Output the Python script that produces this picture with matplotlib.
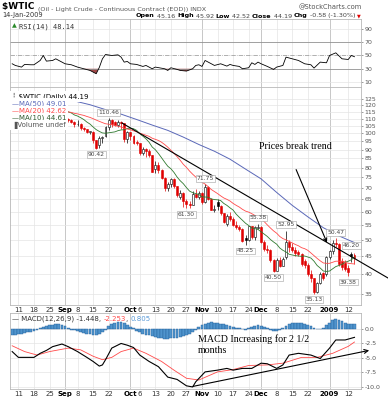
import numpy as np
import pandas as pd
import matplotlib
matplotlib.use("Agg")
import matplotlib.pyplot as plt

# trading days on the chart (exchange holidays taken out)
dates = pd.bdate_range("2008-08-07", "2009-01-14")
dates = dates[~dates.isin(pd.to_datetime(["2008-09-01", "2008-11-27", "2008-12-25", "2009-01-01"]))]

# daily candles (Aug .. Jan)
opens = [118.6, 119.8, 115.3, 114.4, 113.1, 116.2, 114.9, 113.7, 112.9, 114.5, 115.6, 121.2, 114.6, 115.0, 116.3, 118.2, 115.6,
         114.5, 109.7, 109.4, 107.9, 106.2, 106.3, 103.3, 102.6, 100.9, 101.2, 95.7, 92.5, 97.2, 98.5, 104.6, 109.4, 107.5, 105.7, 108.0, 106.9, 96.4,
         100.6, 98.5, 94.0, 93.9, 87.8, 90.1, 89.0, 86.6, 79.0, 81.2, 78.6, 74.5, 69.9, 71.9, 74.3, 70.9, 66.0, 67.8, 64.2, 63.2, 62.7, 67.5, 66.0,
         67.8, 63.9, 70.5, 65.3, 60.8, 64.0, 62.4, 59.3, 55.5, 58.2, 57.0, 55.0, 54.4, 53.6, 50.5, 49.9, 54.5, 50.8, 54.0,
         54.4, 49.3, 47.0, 46.8, 43.7, 40.8, 43.7, 42.1, 44.5, 49.3, 47.5, 46.6, 46.2, 45.4, 43.5, 42.4, 39.9, 38.8, 35.4, 37.7, 40.2, 40.0,
         44.6, 46.3, 48.8, 48.6, 43.5, 43.0, 41.5, 45.6, 45.16]
highs = [120.8, 120.2, 116.0, 115.0, 117.3, 117.0, 115.2, 114.4, 115.0, 117.0, 121.7, 122.0, 116.0, 117.0, 119.2, 118.6, 117.5,
         116.0, 110.8, 110.0, 108.5, 108.8, 107.0, 104.0, 103.0, 101.8, 101.5, 96.0, 98.4, 98.5, 105.0, 110.46, 110.2, 108.2, 108.8, 108.5, 107.2, 101.4,
         101.0, 99.0, 96.0, 94.2, 91.6, 91.0, 90.6, 87.0, 83.3, 83.0, 79.5, 75.0, 72.6, 74.5, 74.5, 71.0, 69.0, 68.0, 65.0, 64.5, 68.5, 69.5, 68.5,
         68.0, 71.75, 71.0, 65.5, 62.5, 65.0, 62.8, 59.5, 59.0, 60.0, 58.0, 56.5, 55.0, 53.8, 51.5, 54.7, 54.6, 54.6, 55.38,
         54.5, 50.0, 48.3, 47.1, 44.0, 44.3, 44.5, 44.5, 52.95, 50.0, 49.0, 47.5, 46.8, 45.8, 44.0, 42.8, 41.0, 39.0, 38.0, 40.5, 40.5, 44.8,
         46.7, 49.8, 50.47, 48.8, 44.3, 43.8, 42.3, 46.20, 45.92]
lows = [117.4, 114.6, 113.0, 111.3, 112.2, 112.6, 111.3, 111.3, 112.0, 113.0, 115.0, 114.0, 113.5, 114.0, 115.6, 114.5, 114.5,
        105.5, 107.6, 106.9, 104.0, 104.7, 102.3, 101.3, 100.0, 99.5, 93.9, 90.42, 90.8, 93.9, 97.5, 102.5, 104.4, 104.9, 104.5, 103.0, 94.4, 94.0,
        96.0, 93.3, 92.5, 87.0, 87.0, 85.7, 85.6, 77.6, 77.0, 77.0, 74.0, 68.6, 68.6, 70.5, 70.0, 66.0, 65.0, 62.0, 61.30, 61.5, 62.5, 65.5, 65.0,
        63.0, 63.5, 64.8, 60.5, 59.8, 60.5, 58.5, 55.8, 54.7, 56.5, 54.5, 53.5, 52.9, 49.2, 48.25, 49.5, 50.1, 50.0, 53.5,
        49.0, 46.5, 45.7, 43.3, 40.50, 40.6, 41.8, 42.0, 44.0, 46.0, 46.0, 45.0, 44.8, 42.0, 41.5, 39.5, 38.0, 35.13, 35.3, 37.5, 38.5, 39.5,
        44.0, 45.5, 47.5, 42.0, 41.0, 40.6, 39.38, 43.2, 42.52]
closes = [120.0, 115.2, 114.4, 113.0, 116.0, 115.0, 113.8, 112.9, 114.5, 115.6, 121.2, 114.6, 115.0, 116.3, 118.2, 115.6, 115.5,
          109.7, 109.4, 107.9, 106.2, 106.3, 103.3, 102.6, 100.9, 101.2, 95.7, 91.2, 97.2, 97.9, 104.6, 109.4, 106.6, 105.7, 108.0, 106.9, 96.4, 100.6,
          98.5, 94.0, 93.9, 87.8, 90.1, 89.0, 86.6, 77.7, 81.2, 78.6, 74.5, 69.9, 71.9, 74.3, 70.9, 66.8, 67.8, 64.2, 63.2, 62.7, 67.5, 66.0, 67.8,
          63.9, 70.5, 65.3, 60.8, 61.0, 62.4, 59.3, 56.2, 58.2, 57.0, 55.0, 54.4, 53.6, 49.6, 49.9, 54.5, 50.8, 54.4, 54.4,
          49.3, 47.0, 46.8, 43.7, 40.8, 43.7, 42.1, 44.0, 49.3, 47.5, 46.6, 45.8, 45.4, 42.6, 42.4, 39.9, 39.0, 35.4, 37.7, 40.0, 39.0, 44.6,
          46.3, 48.8, 48.6, 42.6, 41.9, 41.2, 40.5, 44.77, 44.19]

# moving averages
ma10_start = 9
ma10 = [115.0, 115.2, 115.1, 115.2, 115.5, 115.7, 115.8, 115.9, 115.6, 115.1, 114.3, 112.8, 112.0, 110.8, 109.5, 107.7,
        106.3, 104.3, 102.5, 101.3, 100.3, 100.1, 100.4, 100.7, 101.0, 101.8, 102.3, 102.4, 103.3, 103.5, 103.1, 102.0,
        99.8, 98.2, 96.5, 94.4, 91.5, 89.9, 87.7, 85.3, 82.9, 80.7, 79.4, 77.5, 75.2, 73.4, 72.0, 70.2, 68.6, 67.9, 67.5,
        67.1, 66.1, 66.0, 65.9, 65.2, 64.9, 64.8, 64.5, 63.3, 62.5, 61.5, 60.6, 59.0, 57.8, 56.7, 55.6, 54.8, 53.9, 53.7,
        53.4, 52.6, 51.8, 51.0, 50.0, 49.2, 48.5, 47.3, 46.6, 46.1, 45.4, 45.2, 45.0, 44.9, 44.8, 44.9, 44.6, 44.3, 43.4,
        42.2, 41.5, 40.7, 40.6, 40.7, 41.3, 41.9, 42.2, 42.5, 43.1, 43.4, 43.8, 44.61]
ma20_start = 14
ma20 = [116.2, 116.0, 115.8, 115.5, 115.1, 114.7, 114.0, 113.6, 113.0, 112.5, 111.7, 111.0, 110.1, 109.1, 108.2, 107.3,
        106.5, 106.2, 105.8, 105.3, 104.8, 104.3, 103.4, 102.9, 102.4, 101.7, 101.1, 100.1, 99.5, 98.8, 98.1, 96.9, 96.2,
        95.5, 94.4, 93.0, 91.4, 89.6, 87.8, 85.9, 83.9, 81.7, 80.1, 78.2, 76.6, 75.2, 73.9, 72.7, 71.8, 70.6, 69.3, 68.4,
        67.5, 66.5, 65.6, 65.0, 64.3, 63.3, 62.5, 61.8, 60.9, 60.2, 59.8, 59.2, 58.5, 58.0, 57.0, 56.2, 55.0, 53.9, 52.9,
        52.1, 51.0, 50.3, 49.9, 49.4, 48.9, 48.4, 48.0, 47.4, 47.1, 46.6, 45.8, 45.0, 44.2, 43.5, 42.9, 42.8, 42.8, 43.1,
        43.4, 43.4, 43.4, 43.2, 42.8, 42.7, 42.62]
ma50_pos = [14, 20, 25, 30, 35, 40, 45, 50, 55, 60, 65, 70, 75, 80, 85, 90, 95, 100, 105, 110]
ma50 = [126.4, 123.6, 120.6, 116.8, 113.4, 109.5, 105.6, 102.0, 97.6, 93.0, 89.0, 84.5, 79.2, 74.3, 68.0, 62.5, 58.0, 54.0, 51.2, 49.01]

# RSI(14)
rsi_pos = [0, 1, 3, 4, 6, 7, 9, 10, 11, 13, 14, 15, 17, 19, 21, 23, 25, 27, 28, 29, 30, 32, 34, 35, 36, 37, 38, 40, 42, 43,
           45, 46, 49, 50, 51, 53, 54, 56, 58, 59, 60, 61, 62, 64, 65, 67, 69, 70, 71, 73, 74, 76, 77, 78, 79, 80, 82, 84, 85, 87,
           88, 90, 92, 94, 96, 97, 99, 101, 102, 104, 106, 108, 109, 110]
rsi_vals = [37.5, 35, 32.5, 36.5, 36, 36, 42.5, 50, 41.5, 42.5, 45, 42.5, 37.5, 36, 32.5, 30, 27.5, 22.5, 32, 45,
            51.5, 50, 51, 47.5, 40, 41, 37.5, 36.5, 33.5, 35, 30, 32.5, 30, 27.5, 31.5, 29, 27.5, 26.5, 30, 35,
            36, 33.5, 42.5, 37.5, 35, 37.5, 34, 36.5, 35, 33.5, 30, 31.5, 39, 36.5, 40, 37.5, 33.5, 29, 32.5, 35,
            47.5, 45, 42.5, 37.5, 36, 31, 40, 39, 50, 54, 45, 44, 50, 48.14]

# MACD(12,26,9)
macd_pos = [0, 2, 7, 9, 11, 13, 16, 18, 21, 24, 26, 28, 29, 30, 32, 35, 37, 39, 41, 44, 47, 50, 53, 56, 58, 59, 62, 66,
            69, 71, 74, 77, 80, 82, 85, 87, 89, 92, 96, 99, 102, 104, 107, 110]
macd_vals = [-3.9, -4.9, -4.9, -4.2, -3.7, -3.05, -2.6, -3.05, -3.9, -4.9, -5.6, -6.4, -6.2, -5.3, -3.3, -2.5, -2.8, -3.2,
             -4.5, -5.6, -6.5, -8.3, -8.7, -9.8, -10.0, -9.1, -7.4, -7.1, -6.8, -7.1, -6.8, -6.8, -5.9, -6.0, -6.8, -6.2,
             -4.5, -4.2, -4.5, -5.1, -3.3, -1.9, -1.9, -1.448]
signal_pos = [0, 4, 8, 12, 18, 22, 26, 29, 32, 35, 39, 43, 48, 52, 56, 60, 66, 71, 76, 82, 87, 93, 98, 103, 108, 110]
signal_vals = [-2.9, -3.9, -4.5, -3.9, -3.3, -3.6, -4.7, -5.3, -4.9, -3.9, -3.3, -4.2, -5.6, -7.1, -8.5, -8.8, -7.4,
               -7.0, -6.3, -6.2, -5.9, -4.9, -4.9, -4.2, -3.0, -2.253]
hist = [-1.0, -1.0, -0.9, -0.8, -0.7, -0.6, -0.5, -0.4, -0.2, 0.1,
        0.3, 0.5, 0.6, 0.7, 0.8, 0.8, 0.7, 0.5, 0.1, -0.1,
        -0.2, -0.4, -0.6, -0.7, -0.8, -0.9, -1.0, -1.1, -0.9, -0.5,
        -0.1, 0.5, 0.9, 1.1, 1.2, 1.2, 1.0, 0.7, 0.4, 0.1,
        -0.3, -0.6, -0.8, -1.0, -1.1, -1.3, -1.4, -1.5, -1.6, -1.7,
        -1.7, -1.6, -1.5, -1.5, -1.4, -1.3, -1.1, -0.9, -0.5, -0.1,
        0.3, 0.6, 0.9, 1.1, 1.2, 1.1, 1.0, 0.9, 0.8, 0.7,
        0.5, 0.3, 0.2, 0.1, 0.0, -0.1, 0.1, 0.3, 0.5, 0.6,
        0.5, 0.3, 0.1, -0.1, -0.3, -0.3, -0.2, 0.1, 0.5, 0.8,
        1.0, 1.1, 1.1, 1.0, 0.9, 0.7, 0.5, 0.2, 0.0, 0.0,
        0.1, 0.6, 1.1, 1.5, 1.7, 1.6, 1.4, 1.1, 0.9, 0.9, 0.805]

# labelled highs / lows: (trading day, value, above)
price_notes = [(31, 110.46, True), (27, 90.42, False), (62, 71.75, True), (56, 61.30, False),
               (79, 55.38, True), (75, 48.25, False), (88, 52.95, True), (84, 40.50, False),
               (104, 50.47, True), (109, 46.20, True), (97, 35.13, False), (108, 39.38, False)]

n = len(dates)
pos = np.arange(n)

# date ticks: first trading day of each month plus weekly ticks
month_pos = [i for i in range(1, n) if dates[i].month != dates[i - 1].month]
week_pos = [i for i in range(1, n) if dates[i].weekday() < dates[i - 1].weekday()]
week_pos = [w for w in week_pos if not any(-3 <= w - m <= 1 for m in month_pos)]
tick_pos = sorted(week_pos + month_pos)
tick_text = []
for t in tick_pos:
    d = dates[t]
    if t in month_pos:
        tick_text.append(str(d.year) if d.month == 1 else d.strftime("%b"))
    else:
        tick_text.append(str(d.day))

W, H = 388, 400
fig = plt.figure(figsize=(W / 100, H / 100), dpi=100)


def rect(x0, y0, x1, y1):
    return [x0 / W, 1 - y1 / H, (x1 - x0) / W, (y1 - y0) / H]


ax_rsi = fig.add_axes(rect(10, 19, 361, 87))
ax = fig.add_axes(rect(10, 87, 361, 305))
ax_macd = fig.add_axes(rect(10, 313, 361, 389))


def style_panel(a, labels):
    a.set_xlim(-0.7, 112.1)
    for s in a.spines.values():
        s.set_color("#b8b8b8")
        s.set_linewidth(0.6)
    for t in tick_pos:
        a.axvline(t, color="#b0b0b0" if t in month_pos else "#e4e4e4", lw=0.5, zorder=0)
    a.yaxis.tick_right()
    a.tick_params(axis="y", labelsize=4.5, length=1.5, width=0.4, colors="#555555", pad=1)
    a.set_xticks(tick_pos)
    a.tick_params(axis="x", length=0, pad=1.5, labelsize=5, colors="#333333")
    if labels:
        a.set_xticklabels(tick_text)
        for lab, t in zip(a.get_xticklabels(), tick_pos):
            if t in month_pos:
                lab.set_fontweight("bold")
                lab.set_color("black")
    else:
        a.set_xticklabels([])


def chain(host, first, parts, size):
    # place text pieces one after another on the same line
    prev = first
    for s, wt, col in parts:
        prev = host.annotate(s, xy=(1, 0), xycoords=prev, fontsize=size, fontweight=wt, color=col,
                             va="bottom", ha="left", annotation_clip=False, zorder=9)
    return prev


# ---- RSI panel
style_panel(ax_rsi, False)
ax_rsi.set_ylim(2.5, 105)
ax_rsi.set_yticks([10, 30, 50, 70, 90])
for lv in [10, 90]:
    ax_rsi.axhline(lv, color="#e4e4e4", lw=0.5, zorder=0)
ax_rsi.axhline(70, color="#909090", lw=0.6)
ax_rsi.axhline(30, color="#909090", lw=0.6)
ax_rsi.axhline(50, color="#909090", lw=0.5, ls="-.")
rv = np.array(rsi_vals)
ax_rsi.fill_between(rsi_pos, rv, 30, where=rv < 30, interpolate=True, color="#a04848", lw=0)
ax_rsi.plot(rsi_pos, rsi_vals, color="black", lw=0.6)
ax_rsi.text(0.006, 0.93, "\u25b2", transform=ax_rsi.transAxes, fontsize=4.5, color="#2a8a2a", va="top")
ax_rsi.text(0.026, 0.93, "RSI(14) 48.14", transform=ax_rsi.transAxes, fontsize=5, color="#333333",
            va="top", family="DejaVu Sans Mono")

# ---- price panel
style_panel(ax, True)
ax.set_yscale("log")
ax.set_ylim(32.6, 135.4)
price_ticks = list(range(35, 130, 5))
ax.set_yticks(price_ticks)
ax.set_yticklabels([str(v) for v in price_ticks])
ax.yaxis.set_minor_locator(matplotlib.ticker.NullLocator())
for v in price_ticks:
    ax.axhline(v, color="#e4e4e4", lw=0.5, zorder=0)

prev_close = [opens[0]] + closes[:-1]
for i in range(n):
    o, h, l, c = opens[i], highs[i], lows[i], closes[i]
    col = "#e00000" if c < prev_close[i] else "black"
    ax.vlines(i, l, h, color=col, lw=0.5, zorder=3)
    lo, hi = min(o, c), max(o, c)
    if hi / lo < 1.004:
        hi = lo * 1.004
    face = col if c < o else "white"
    ax.bar(i, hi - lo, bottom=lo, width=0.62, color=face, edgecolor=col, lw=0.4, zorder=4)

ax.plot(np.arange(ma10_start, ma10_start + len(ma10)), ma10, color="#2f7a2f", lw=0.6, zorder=5)
ax.plot(np.arange(ma20_start, ma20_start + len(ma20)), ma20, color="#ff4a4a", lw=0.6, zorder=5)
ax.plot(ma50_pos, ma50, color="#5a68b8", lw=0.7, zorder=5)

for p, v, above in price_notes:
    ax.annotate(f"{v:.2f}", xy=(p, v), xytext=(0, 2.5 if above else -2.5), textcoords="offset points",
                ha="center", va="bottom" if above else "top", fontsize=4.3, color="#444444", zorder=7,
                bbox=dict(boxstyle="square,pad=0.15", fc="white", ec="#a0a0a0", lw=0.4))

# hand-drawn trend line and note
ax.plot([35.3, 121.4], [107.0, 38.6], color="black", lw=0.8, clip_on=False, zorder=6)
ax.annotate("", xy=(101.5, 48.2), xytext=(90.9, 80.3),
            arrowprops=dict(arrowstyle="->", color="black", lw=0.8, mutation_scale=6), zorder=6)
ax.text(90.9, 91.5, "Prices break trend", ha="center", va="center", fontsize=7.2,
        family="Liberation Serif", zorder=6)

legend_rows = [("\u2506 $WTIC (Daily) 44.19", "black"), ("\u2014MA(50) 49.01", "#5a68b8"),
               ("\u2014MA(20) 42.62", "#ff4a4a"), ("\u2014MA(10) 44.61", "#2f5a2f"),
               ("\u2590Volume undef", "#555555")]
for k, (s, col) in enumerate(legend_rows):
    ax.text(0.006, 0.958 - k * 0.033, s, transform=ax.transAxes, fontsize=5, color=col, va="center",
            zorder=8, bbox=dict(boxstyle="square,pad=0.25", fc="white", ec="none"))

# ---- MACD panel
style_panel(ax_macd, True)
ax_macd.set_ylim(-10.35, 2.75)
macd_ticks = [0.0, -2.5, -5.0, -7.5, -10.0]
ax_macd.set_yticks(macd_ticks)
ax_macd.set_yticklabels([f"{v:.1f}" for v in macd_ticks])
for v in macd_ticks:
    ax_macd.axhline(v, color="#e4e4e4", lw=0.5, zorder=0)
ax_macd.bar(pos, hist, width=0.9, color="#4f94cd", edgecolor="#24609a", lw=0.3, zorder=2)
ax_macd.plot(signal_pos, signal_vals, color="#ff4a4a", lw=0.6, zorder=3)
ax_macd.plot(macd_pos, macd_vals, color="black", lw=0.8, zorder=4)
ax_macd.annotate("", xy=(115.6, -3.6), xytext=(57.2, -10.0), annotation_clip=False,
                 arrowprops=dict(arrowstyle="->", color="black", lw=0.8, mutation_scale=7))
ax_macd.text(59.7, -1.0, "MACD Increasing for 2 1/2\nmonths", ha="left", va="top", fontsize=7.2,
             family="Liberation Serif", linespacing=1.15, zorder=6)

t0 = ax_macd.text(0.006, 0.92, "\u2014 MACD(12,26,9) -1.448, ", transform=ax_macd.transAxes,
                  fontsize=5, color="#333333", va="center", zorder=8)
chain(ax_macd, t0, [("-2.253", "normal", "#ff4a4a"), (", ", "normal", "#333333"),
                    ("0.805", "normal", "#5a9ad8")], 5)

# ---- header
t1 = fig.text(2 / W, 1 - 9.5 / H, "$WTIC ", fontsize=6.5, fontweight="bold", va="baseline")
chain(ax_rsi, t1, [("(Oil - Light Crude - Continuous Contract (EOD)) INDX", "normal", "#555555")], 4.6)
fig.text(362 / W, 1 - 9.5 / H, "@StockCharts.com", fontsize=4.8, color="#555555", va="baseline", ha="right")
fig.text(2 / W, 1 - 17.5 / H, "14-Jan-2009", fontsize=4.8, color="#333333", va="baseline")

t2 = fig.text(136 / W, 1 - 17.5 / H, "Open", fontsize=4.6, fontweight="bold", va="baseline")
last = chain(ax_rsi, t2, [(" 45.16 ", "normal", "#444444"), ("High", "bold", "black"),
                          (" 45.92 ", "normal", "#444444"), ("Low", "bold", "black"), (" 42.52 ", "normal", "#444444"),
                          ("Close", "bold", "black"), (" 44.19 ", "normal", "#444444"), ("Chg", "bold", "black"),
                          (" -0.58 (-1.30%) ", "normal", "#444444")], 4.6)
chain(ax_rsi, last, [("\u25bc", "normal", "#e00000")], 3.5)

fig.savefig("out.png", dpi=100)
